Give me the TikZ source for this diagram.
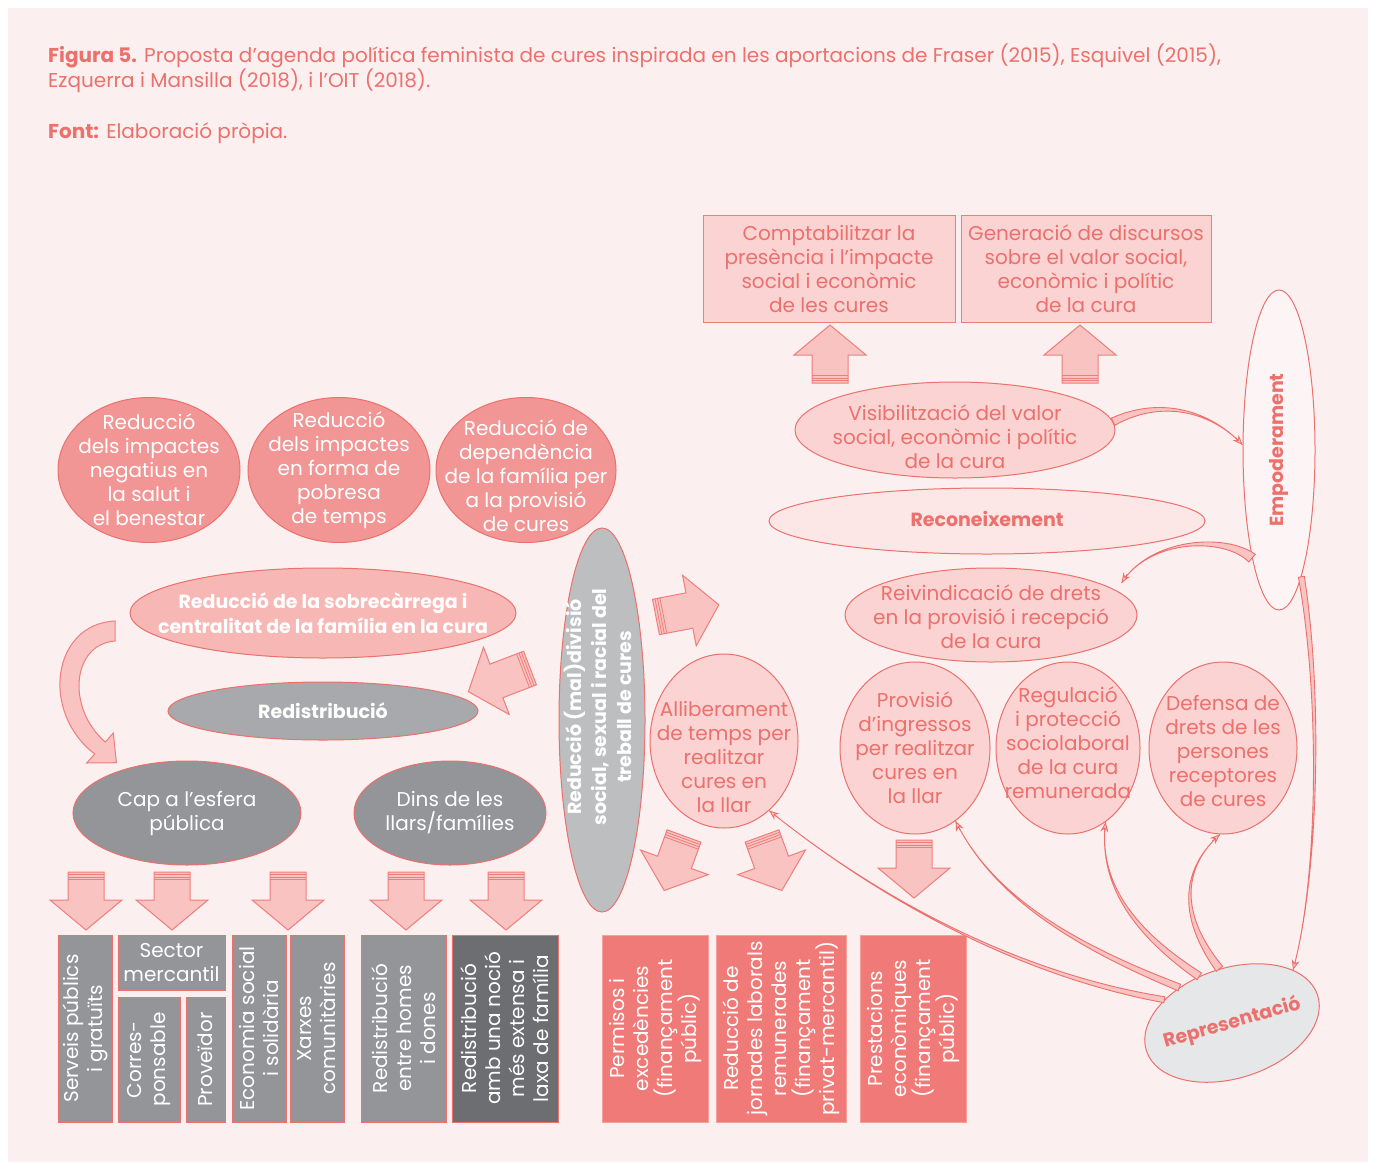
\documentclass[tikz,border=0pt]{standalone}
\usepackage{fontspec}
\setmainfont{Poppins}
\usetikzlibrary{shapes.geometric,calc,arrows.meta}

\definecolor{panel}{HTML}{FCEFEF}
\definecolor{salmon}{HTML}{EC706C}
\definecolor{darkpink}{HTML}{F19694}
\definecolor{midpink}{HTML}{F6B7B5}
\definecolor{lightpink}{HTML}{FAD3D2}
\definecolor{palerose}{HTML}{FCE6E6}
\definecolor{palest}{HTML}{FDF5F5}
\definecolor{greyA}{HTML}{939598}
\definecolor{greyB}{HTML}{A7A9AC}
\definecolor{greyC}{HTML}{BCBEC0}
\definecolor{greyD}{HTML}{6D6E71}
\definecolor{greyE}{HTML}{E6E7E8}
\definecolor{boxsalmon}{HTML}{F07A77}
\definecolor{boxedge}{HTML}{F4A09D}
\definecolor{arrowfill}{HTML}{F8C3C1}
\definecolor{arrowline}{HTML}{EF7E7B}

\tikzset{
  txt/.style={font=\fontsize{20}{24}\selectfont},
  oval/.style={ellipse, draw=salmon, line width=1pt, inner sep=0pt},
  ovdark/.style={oval, fill=darkpink},
  ovmid/.style={oval, fill=midpink},
  ovlight/.style={oval, fill=lightpink},
  ovgrey/.style={oval, fill=greyA},
  wt/.style={txt, text=white, align=center, inner sep=0pt},
  wtb/.style={wt, font=\fontsize{19}{25}\selectfont\bfseries},
  st/.style={txt, text=salmon, align=center, inner sep=0pt},
  stb/.style={st, font=\fontsize{19}{24}\selectfont\bfseries},
  gbox/.style={rectangle, draw=salmon, line width=1pt, fill=greyA, text=white,
    align=center, inner sep=0pt, txt},
  sbox/.style={gbox, draw=boxedge, fill=boxsalmon},
  pbox/.style={gbox, draw=arrowline, fill=lightpink, text=salmon},
  barrow/.style={fill=arrowfill, draw=arrowline, line width=1pt, line join=miter},
  bstripe/.style={draw=arrowline, line width=0.8pt},
  tapfill/.style={fill=arrowfill, draw=salmon, line width=0.9pt},
  taptip/.style={draw=salmon, line width=0.9pt,
    -{Stealth[length=10pt,width=8pt,fill=arrowfill]}},
}

% straight block arrow: tail centre (#1,#2), direction #3, length #4
\newcommand\blockarrow[4]{%
  \begin{scope}[shift={(#1,#2)}, rotate=#3]
    \filldraw[barrow] (0,-18) -- (#4-30,-18) -- (#4-30,-36) -- (#4,0)
      -- (#4-30,36) -- (#4-30,18) -- (0,18) -- cycle;
    \foreach \s in {2.5,5,7.5} \draw[bstripe] (\s,-18) -- (\s,18);
  \end{scope}}

% tapered curved arrow: start, control 1, control 2, end, half widths
\newcommand\taperarrow[6]{%
  \filldraw[tapfill] ($(#1)!#5!90:(#2)$) .. controls ($(#2)!#6!90:(#3)$) and (#3) .. (#4)
    .. controls (#3) and ($(#2)!#6!-90:(#3)$) .. ($(#1)!#5!-90:(#2)$) -- cycle;
  \draw[taptip] ($(#4)!10pt!(#3)$) -- (#4);
}

\begin{document}
\begin{tikzpicture}[x=1pt,y=-1pt]
\useasboundingbox (0,0) rectangle (1375,1162);
\fill[white] (0,0) rectangle (1375,1162);
\fill[panel] (8,8) rectangle (1368,1162);

% caption
\begin{scope}[every node/.style={anchor=base west, inner sep=0pt, text=salmon,
    font=\fontsize{20}{25}\selectfont}]
  \node (hdr1) at (48,62) {\textbf{Figura 5.} Proposta d’agenda política feminista de cures inspirada en les aportacions de Fraser (2015), Esquivel (2015),};
  \node (hdr2) at (48,87) {Ezquerra i Mansilla (2018), i l’OIT (2018).};
  \node (hdr3) at (48,138) {\textbf{Font:} Elaboració pròpia.};
\end{scope}

% ---------- left half: redistribution ----------
\node[ovdark, minimum width=182, minimum height=145,
  label={[wt]center:{Reducció\\dels impactes\\negatius en\\la salut i\\el benestar}}] (c1) at (149,470) {};
\node[ovdark, minimum width=182, minimum height=145,
  label={[wt]center:{Reducció\\dels impactes\\en forma de\\pobresa\\de temps}}] (c2) at (339,470) {};
\node[ovdark, minimum width=180, minimum height=145,
  label={[wt, yshift=-6pt]center:{Reducció de\\dependència\\de la família per\\a la provisió\\de cures}}] (c3) at (526,470) {};

\node[ovmid, minimum width=386, minimum height=90,
  label={[wtb]center:{Reducció de la sobrecàrrega i\\centralitat de la família en la cura}}] (sobre) at (323,613) {};
\node[oval, fill=greyB, minimum width=310, minimum height=58,
  label={[wtb]center:{Redistribució}}] (redis) at (323,711) {};
\node[ovgrey, minimum width=228, minimum height=104,
  label={[wt]center:{Cap a l’esfera\\pública}}] (cap) at (187,813) {};
\node[ovgrey, minimum width=192, minimum height=104,
  label={[wt]center:{Dins de les\\llars/famílies}}] (dins) at (450,813) {};

\node[oval, fill=greyC, minimum width=86, minimum height=384,
  label={[wtb, rotate=90, xshift=13pt, yshift=4pt]center:{Reducció (mal)divisió\\social, sexual i racial del\\treball de cures}}] (divisio) at (602,720) {};

% curved arrow from the overload ellipse to the public sphere
\filldraw[barrow] (115,621) .. controls (52,624) and (40,712) .. (94.7,754)
  -- (86.7,763) -- (116.4,762.7) -- (113.3,733) -- (105.3,742)
  .. controls (66,708) and (72,644) .. (115,641) -- cycle;

% block arrows
\blockarrow{530}{668}{201}{66}
\foreach \x in {86,172,288,406,506} {\blockarrow{\x}{872}{-90}{58}}

% bottom grey boxes
\node[gbox, rotate=90, minimum width=187, minimum height=54] (serveis) at (85,1028.5) {Serveis públics\\i gratuïts};
\node[gbox, minimum width=107, minimum height=55] (sector) at (171.5,962.5) {Sector\\mercantil};
\node[gbox, rotate=90, minimum width=125, minimum height=62] (corres) at (149,1059.5) {Corres-\\ponsable};
\node[gbox, rotate=90, minimum width=125, minimum height=39] (proveidor) at (205.5,1059.5) {Proveïdor};
\node[gbox, rotate=90, minimum width=187, minimum height=54] (economia) at (259,1028.5) {Economia social\\i solidària};
\node[gbox, rotate=90, minimum width=187, minimum height=54] (xarxes) at (317,1028.5) {Xarxes\\comunitàries};
\node[gbox, rotate=90, minimum width=187, minimum height=85] (homes) at (403.5,1028.5) {Redistribució\\entre homes\\i dones};
\node[gbox, fill=greyD, rotate=90, minimum width=187, minimum height=106] (laxa) at (505,1028.5) {Redistribució\\amb una noció\\més extensa i\\laxa de família};

% ---------- right half: recognition ----------
\node[pbox, minimum width=252, minimum height=107] (compt) at (829,268.5) {Comptabilitzar la\\presència i l’impacte\\social i econòmic\\de les cures};
\node[pbox, minimum width=250, minimum height=107] (discurs) at (1086,268.5) {Generació de discursos\\sobre el valor social,\\econòmic i polític\\de la cura};

\blockarrow{830}{383}{90}{58}
\blockarrow{1080}{383}{90}{58}

\node[ovlight, minimum width=320, minimum height=96,
  label={[st, yshift=-7pt]center:{Visibilització del valor\\social, econòmic i polític\\de la cura}}] (vis) at (955,430) {};
\node[oval, fill=palerose, minimum width=436, minimum height=66,
  label={[stb, yshift=2pt]center:{Reconeixement}}] (recon) at (987,521) {};
\node[oval, fill=palest, minimum width=72, minimum height=320,
  label={[stb, rotate=90]center:{Empoderament}}] (emp) at (1279,450) {};
\node[ovlight, minimum width=292, minimum height=94,
  label={[st, yshift=-2pt]center:{Reivindicació de drets\\en la provisió i recepció\\de la cura}}] (reiv) at (991,615) {};

\node[ovlight, minimum width=148, minimum height=174,
  label={[st, yshift=-16pt]center:{Alliberament\\de temps per\\realitzar\\cures en\\la llar}}] (allib) at (724,741) {};
\node[ovlight, minimum width=150, minimum height=172,
  label={[st]center:{Provisió\\d’ingressos\\per realitzar\\cures en\\la llar}}] (prov) at (915,748) {};
\node[ovlight, minimum width=144, minimum height=172,
  label={[st, yshift=5pt]center:{Regulació\\i protecció\\sociolaboral\\de la cura\\remunerada}}] (reg) at (1068,748) {};
\node[ovlight, minimum width=148, minimum height=172,
  label={[st, yshift=-3pt]center:{Defensa de\\drets de les\\persones\\receptores\\de cures}}] (def) at (1223,748) {};

\node[oval, fill=greyE, rotate=18, minimum width=180, minimum height=110,
  label={[stb, rotate=16]center:{Representació}}] (rep) at (1232,1023) {};

\blockarrow{656}{617}{11}{64}
\blockarrow{684}{836}{250}{58}
\blockarrow{762}{836}{-70}{58}
\blockarrow{914}{840}{-90}{58}

% bottom salmon boxes
\node[sbox, rotate=90, minimum width=187, minimum height=106] (permisos) at (655,1028.5) {Permisos i\\excedències\\(finançament\\públic)};
\node[sbox, rotate=90, minimum width=187, minimum height=130] (jornades) at (781,1028.5) {Reducció de\\jornades laborals\\remunerades\\(finançament\\privat-mercantil)};
\node[sbox, rotate=90, minimum width=187, minimum height=106] (prestacions) at (913,1028.5) {Prestacions\\econòmiques\\(finançament\\públic)};

% curved connectors
\coordinate (reivtip) at ($(reiv.12)+(8,-6)$);
\taperarrow{vis.3}{1160,398}{1210,410}{emp.172}{4pt}{2pt}
\taperarrow{emp.-104}{1225,535}{1150,538}{reivtip}{5pt}{2.5pt}
\taperarrow{emp.-80}{1322,700}{1318,880}{rep.23}{3pt}{1.5pt}
\taperarrow{rep.85}{1178,915}{1182,868}{def.-92}{4pt}{2pt}
\taperarrow{rep.107}{1130,930}{1098,880}{reg.-63}{4pt}{2pt}
\taperarrow{rep.128}{1060,940}{990,890}{prov.-61}{3.5pt}{1.5pt}
\taperarrow{rep.143}{1020,975}{880,900}{allib.-57}{3pt}{1.2pt}
\end{tikzpicture}
\end{document}
